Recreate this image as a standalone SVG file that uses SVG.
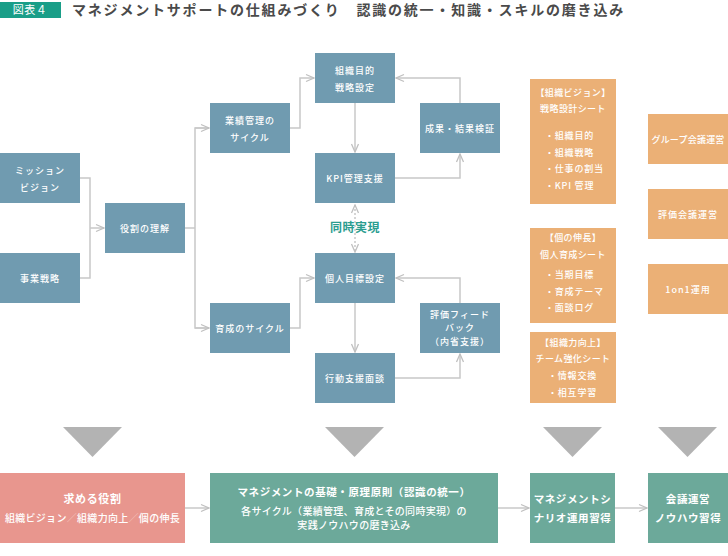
<svg xmlns="http://www.w3.org/2000/svg" width="728" height="556" viewBox="0 0 728 556">
<defs>
<style>
text{font-family:"Noto Sans CJK JP","Noto Sans",sans-serif;fill:#fff;text-anchor:middle;}
.b{fill:#709bb0;}
.o{fill:#ebb076;}
.p{fill:#e8968e;}
.g{fill:#6ca99a;}
.t9{font-size:9px;letter-spacing:1px;font-weight:500;}
.t9l{font-size:9px;letter-spacing:0.8px;text-anchor:start;font-weight:500;}
.t10{font-size:10px;letter-spacing:0.3px;font-weight:500;}
.t11{font-size:11px;letter-spacing:0.6px;font-weight:bold;}
.c{fill:none;stroke:#c8c8c8;stroke-width:1.5;}
.tri{fill:#b3b3b3;}
</style>
<marker id="ah" markerUnits="userSpaceOnUse" markerWidth="10" markerHeight="10" refX="9" refY="5" orient="auto-start-reverse" viewBox="0 0 10 10">
<path d="M1,1.5 L9,5 L1,8.5" fill="none" stroke="#c0c0c0" stroke-width="1.3"/>
</marker>
</defs>
<rect width="728" height="556" fill="#fff"/>

<g id="title">
<rect x="0" y="2" width="61" height="16" fill="#1a9e88"/>
<text x="30" y="14" style="font-size:11px;letter-spacing:0.5px;">図表４</text>
<text x="72" y="15" style="font-size:14px;font-weight:bold;fill:#4a4a4a;text-anchor:start;letter-spacing:1.8px;">マネジメントサポートの仕組みづくり　認識の統一・知識・スキルの磨き込み</text>
</g>

<g id="connectors">
<polyline class="c" points="80,178 90,178 90,278 80,278"/>
<line class="c" x1="90" y1="228" x2="104" y2="228" marker-end="url(#ah)"/>
<line class="c" x1="185" y1="228" x2="195" y2="228"/>
<polyline class="c" points="209,128 195,128 195,328 209,328"/>
<line class="c" x1="195" y1="128" x2="209" y2="128" marker-end="url(#ah)"/>
<line class="c" x1="195" y1="328" x2="209" y2="328" marker-end="url(#ah)"/>
<polyline class="c" points="290,128 300,128 300,78 314,78" marker-end="url(#ah)"/>
<line class="c" x1="355" y1="103" x2="355" y2="152" marker-end="url(#ah)"/>
<polyline class="c" points="395,178 460,178 460,154" marker-end="url(#ah)"/>
<polyline class="c" points="460,103 460,78 396,78" marker-end="url(#ah)"/>
<line x1="355" y1="205" x2="355" y2="252" stroke="#c8c8c8" stroke-width="1.5" stroke-dasharray="2,2" marker-start="url(#ah)" marker-end="url(#ah)"/>
<polyline class="c" points="290,328 300,328 300,278 314,278" marker-end="url(#ah)"/>
<line class="c" x1="355" y1="303" x2="355" y2="352" marker-end="url(#ah)"/>
<polyline class="c" points="395,378 460,378 460,354" marker-end="url(#ah)"/>
<polyline class="c" points="460,303 460,278 396,278" marker-end="url(#ah)"/>
<line class="c" x1="185" y1="508" x2="209" y2="508" marker-end="url(#ah)"/>
<line class="c" x1="498" y1="508" x2="529" y2="508" marker-end="url(#ah)"/>
<line class="c" x1="615" y1="508" x2="647" y2="508" marker-end="url(#ah)"/>
<polygon class="tri" points="63,427 122,427 92.5,457"/>
<polygon class="tri" points="325,427 384,427 354.5,457"/>
<polygon class="tri" points="543,427 602,427 572.5,457"/>
<polygon class="tri" points="658,427 717,427 687.5,457"/>
</g>

<g id="mission"><rect class="b" x="0" y="153" width="80" height="50"/>
<text class="t9" x="40" y="174">ミッション</text><text class="t9" x="40" y="191">ビジョン</text></g>
<g id="jigyo"><rect class="b" x="0" y="253" width="80" height="50"/>
<text class="t9" x="40" y="282">事業戦略</text></g>
<g id="yakuwari"><rect class="b" x="105" y="203" width="80" height="50"/>
<text class="t9" x="145" y="232">役割の理解</text></g>
<g id="gyoseki"><rect class="b" x="210" y="103" width="80" height="50"/>
<text class="t9" x="250" y="124">業績管理の</text><text class="t9" x="250" y="141">サイクル</text></g>
<g id="soshiki"><rect class="b" x="315" y="53" width="80" height="50"/>
<text class="t9" x="355" y="74">組織目的</text><text class="t9" x="355" y="91">戦略設定</text></g>
<g id="seika"><rect class="b" x="420" y="103" width="80" height="50"/>
<text class="t9" x="460" y="132">成果・結果検証</text></g>
<g id="kpi"><rect class="b" x="315" y="153" width="80" height="50"/>
<text class="t9" x="355" y="182">KPI管理支援</text></g>
<g id="doji"><text x="355" y="232" style="font-size:12px;font-weight:bold;fill:#2a9d8f;letter-spacing:0.5px;">同時実現</text></g>
<g id="kojin"><rect class="b" x="315" y="253" width="80" height="50"/>
<text class="t9" x="355" y="282">個人目標設定</text></g>
<g id="ikusei"><rect class="b" x="210" y="303" width="80" height="50"/>
<text class="t9" x="250" y="332">育成のサイクル</text></g>
<g id="hyoka"><rect class="b" x="420" y="303" width="80" height="50"/>
<text class="t9" x="460" y="318">評価フィード</text><text class="t9" x="460" y="331">バック</text><text class="t9" x="460" y="345">（内省支援）</text></g>
<g id="kodo"><rect class="b" x="315" y="353" width="80" height="50"/>
<text class="t9" x="355" y="382">行動支援面談</text></g>

<g id="sheet1"><rect class="o" x="530" y="79" width="86" height="125"/>
<text class="t9" x="573" y="96" style="letter-spacing:0.4px">【組織ビジョン】</text>
<text class="t9" x="573" y="112" style="letter-spacing:0.4px">戦略設計シート</text>
<text class="t9l" x="545" y="139">・組織目的</text>
<text class="t9l" x="545" y="156">・組織戦略</text>
<text class="t9l" x="545" y="172">・仕事の割当</text>
<text class="t9l" x="545" y="189">・KPI 管理</text></g>
<g id="sheet2"><rect class="o" x="530" y="228" width="86" height="95"/>
<text class="t9" x="573" y="241" style="letter-spacing:0.4px">【個の伸長】</text>
<text class="t9" x="573" y="258" style="letter-spacing:0.4px">個人育成シート</text>
<text class="t9l" x="545" y="278">・当期目標</text>
<text class="t9l" x="545" y="295">・育成テーマ</text>
<text class="t9l" x="545" y="311">・面談ログ</text></g>
<g id="sheet3"><rect class="o" x="530" y="332" width="86" height="71"/>
<text class="t9" x="573" y="346" style="letter-spacing:0.4px">【組織力向上】</text>
<text class="t9" x="573" y="362" style="letter-spacing:0.4px">チーム強化シート</text>
<text class="t9l" x="548" y="379">・情報交換</text>
<text class="t9l" x="548" y="396">・相互学習</text></g>
<g id="group"><rect class="o" x="648" y="114" width="80" height="50"/>
<text class="t9" x="688" y="143" style="letter-spacing:0.2px">グループ会議運営</text></g>
<g id="hyokakaigi"><rect class="o" x="648" y="189" width="80" height="50"/>
<text class="t9" x="688" y="218">評価会議運営</text></g>
<g id="oneonone"><rect class="o" x="648" y="264" width="80" height="50"/>
<text class="t9" x="688" y="293">1on1運用</text></g>

<g id="motomeru"><rect class="p" x="0" y="473" width="185" height="70"/>
<text class="t11" x="92.5" y="503">求める役割</text>
<text class="t10" x="92.5" y="522">組織ビジョン<tspan fill="#f5c6c1">／</tspan>組織力向上<tspan fill="#f5c6c1">／</tspan>個の伸長</text></g>
<g id="kiso"><rect class="g" x="210" y="473" width="288" height="70"/>
<text class="t11" x="354" y="496" style="font-size:10.5px;">マネジメントの基礎・原理原則（認識の統一）</text>
<text class="t10" x="354" y="515">各サイクル（業績管理、育成とその同時実現）の</text>
<text class="t10" x="354" y="529">実践ノウハウの磨き込み</text></g>
<g id="scenario"><rect class="g" x="530" y="473" width="85" height="70"/>
<text class="t11" x="572.5" y="503" style="font-size:10.5px;">マネジメントシ</text>
<text class="t11" x="572.5" y="522" style="font-size:10.5px;">ナリオ運用習得</text></g>
<g id="kaigi"><rect class="g" x="648" y="473" width="80" height="70"/>
<text class="t11" x="688" y="503" style="font-size:10.5px;">会議運営</text>
<text class="t11" x="688" y="522" style="font-size:10.5px;">ノウハウ習得</text></g>
</svg>
